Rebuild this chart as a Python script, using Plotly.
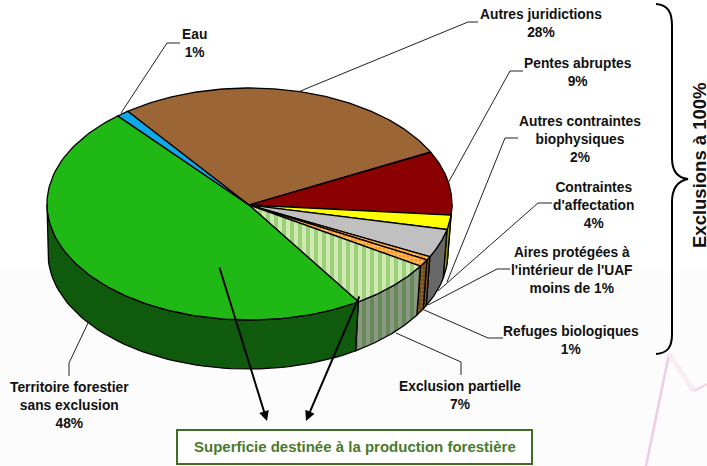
import numpy as np
import plotly.graph_objects as go

# Shares, clockwise from the water slice's trailing edge
slice_names = ["Autres juridictions", "Pentes abruptes", "Autres contraintes biophysiques",
               "Contraintes d'affectation", "Aires protégées à l'intérieur de l'UAF",
               "Refuges biologiques", "Exclusion partielle", "Territoire forestier sans exclusion", "Eau"]
slice_values = [28, 9, 2, 4, 0.5, 1, 7, 48, 1]
top_colors = ["#9c6535", "#8b0000", "#ffff00", "#c0c0c0", "#f79a1e", "#ffa33a", "#cbe8b0", "#1fb814", "#0fa8e8"]
side_colors = ["#5e3d20", "#540000", "#9a9a00", "#686868", "#8a5a12", "#a0703a", "#7f9070", "#0f5a0c", "#086a92"]

label_texts = ["Eau<br>1%", "Autres juridictions<br>28%", "Pentes abruptes<br>9%",
               "Autres contraintes<br>biophysiques<br>2%", "Contraintes<br>d'affectation<br>4%",
               "Aires protégées à<br>l'intérieur de l'UAF<br>moins de 1%", "Refuges biologiques<br>1%",
               "Exclusion partielle<br>7%", "Territoire forestier<br>sans exclusion<br>48%"]
label_x = [194, 541, 578, 580, 593, 572, 571, 460, 69]
label_y = [43.5, 23, 72, 139, 205, 270, 340, 395.5, 405]

leader_x = [[121, 167, 180], [298, 468, 478], [447, 510, 523], [447, 505, 518], [438, 538, 552],
            [428, 497, 510], [422, 488, 503], [396, 461, 461], [89, 69, 69]]
leader_y = [[113, 43, 43], [92, 22, 22], [185, 71, 71], [282, 138, 138], [291, 203, 203],
            [305, 269, 269], [309, 338, 338], [333, 362, 375], [321, 363, 376]]

# Projection of the pie
APEX = (249, 205)
TOP = (249.5, 204, 202.5, 116)
BOTTOM = (248, 253, 200, 116)
START_DEG = 127


def arc(e, a, b, n=60):
    t = np.radians(np.linspace(a, b, n))
    return e[0] + e[2] * np.cos(t), e[1] - e[3] * np.sin(t)


fig = go.Figure()
shares = np.array(slice_values) / sum(slice_values) * 360
edges = START_DEG - np.concatenate([[0], np.cumsum(shares)])
LINE = dict(color="black", width=1.3)

patterns = {
    4: dict(shape=".", bgcolor="#ff9a20", fgcolor="#ffe6c4", size=4, solidity=0.5),
    5: dict(shape=".", bgcolor="#ff9a20", fgcolor="#ffe6c4", size=4, solidity=0.5),
    6: dict(shape="|", bgcolor="#cdeab0", fgcolor="#6fb445", size=8, solidity=0.5),
}
side_patterns = {
    4: dict(shape=".", bgcolor="#6b4a1a", fgcolor="#b08040", size=4, solidity=0.5),
    5: dict(shape=".", bgcolor="#6b4a1a", fgcolor="#b08040", size=4, solidity=0.5),
    6: dict(shape="|", bgcolor="#8a9a80", fgcolor="#467336", size=8, solidity=0.5),
}

# Rim pieces: only the part between -180 and 0 degrees faces the viewer
for i in range(len(slice_values)):
    a, b = edges[i], edges[i + 1]
    a2, b2 = min(a, 0), max(b, -180)
    if a2 <= b2:
        continue
    tx, ty = arc(TOP, a2, b2)
    bx, by = arc(BOTTOM, b2, a2)
    kw = dict(fillpattern=side_patterns[i]) if i in side_patterns else {}
    fig.add_trace(go.Scatter(x=np.r_[tx, bx, tx[0]], y=np.r_[ty, by, ty[0]], mode="lines", fill="toself",
                             fillcolor=side_colors[i], line=LINE, hoverinfo="skip", showlegend=False, **kw))

# Top face
for i, name in enumerate(slice_names):
    ax_, ay_ = arc(TOP, edges[i], edges[i + 1], 120)
    kw = dict(fillpattern=patterns[i]) if patterns.get(i) else {}
    fig.add_trace(go.Scatter(x=np.r_[APEX[0], ax_, APEX[0]], y=np.r_[APEX[1], ay_, APEX[1]], mode="lines",
                             fill="toself", fillcolor=top_colors[i], line=LINE, name=name,
                             hoverinfo="name", showlegend=False, **kw))

# Leaders
for lx, ly in zip(leader_x, leader_y):
    fig.add_trace(go.Scatter(x=lx, y=ly, mode="lines", line=dict(color="#222222", width=1),
                             hoverinfo="skip", showlegend=False))

annotations = [dict(x=x, y=y, text=f"<b>{t}</b>", showarrow=False, xanchor="center", yanchor="middle",
                    font=dict(family="Liberation Sans", size=13.8, color="#111111"))
               for x, y, t in zip(label_x, label_y, label_texts)]
annotations += [
    dict(x=699, y=165, text="<b>Exclusions à 100%</b>", textangle=-90, showarrow=False,
         font=dict(family="Liberation Sans", size=18.5, color="#111111")),
    dict(x=354.5, y=446, text="<b>Superficie destinée à la production forestière</b>", showarrow=False,
         font=dict(family="Liberation Sans", size=15, color="#4a7a2c")),
    dict(x=267, y=421, ax=219, ay=266, axref="x", ayref="y", xref="x", yref="y", text="", showarrow=True,
         arrowhead=2, arrowsize=1, arrowwidth=2, arrowcolor="black"),
    dict(x=306, y=421, ax=360, ay=295, axref="x", ayref="y", xref="x", yref="y", text="", showarrow=True,
         arrowhead=2, arrowsize=1, arrowwidth=2, arrowcolor="black"),
]

shapes = [
    dict(type="rect", x0=0, x1=707, y0=270, y1=466, fillcolor="#fcfcfc", line_width=0, layer="below"),
    dict(type="path", path="M669,354 L646,466", line=dict(color="#f0cce0", width=2.5), layer="below"),
    dict(type="path", path="M669,354 L694,391", line=dict(color="#f9ecf3", width=5), layer="below"),
    dict(type="path", path="M694,391 L707,384", line=dict(color="#f4d6e6", width=2.5), layer="below"),
    dict(type="rect", x0=177, x1=532, y0=430, y1=464, fillcolor="white", line=dict(color="#3d6e24", width=2)),
    dict(type="path",
         path="M656,4 C668,5 672,12 672,26 L672,158 C672,172 678,178 688,179 C678,181 672,188 672,202 "
              "L672,334 C672,347 668,353 656,354",
         line=dict(color="black", width=2)),
]

fig.update_layout(
    width=707, height=466, margin=dict(l=0, r=0, t=0, b=0),
    paper_bgcolor="white", plot_bgcolor="rgba(0,0,0,0)",
    xaxis=dict(range=[0, 707], visible=False, fixedrange=True),
    yaxis=dict(range=[466, 0], visible=False, fixedrange=True),
    annotations=annotations, shapes=shapes,
)
fig.write_html("out.html", config=dict(displayModeBar=False),
               post_script="document.body.style.margin='0';document.body.style.overflow='hidden';")
